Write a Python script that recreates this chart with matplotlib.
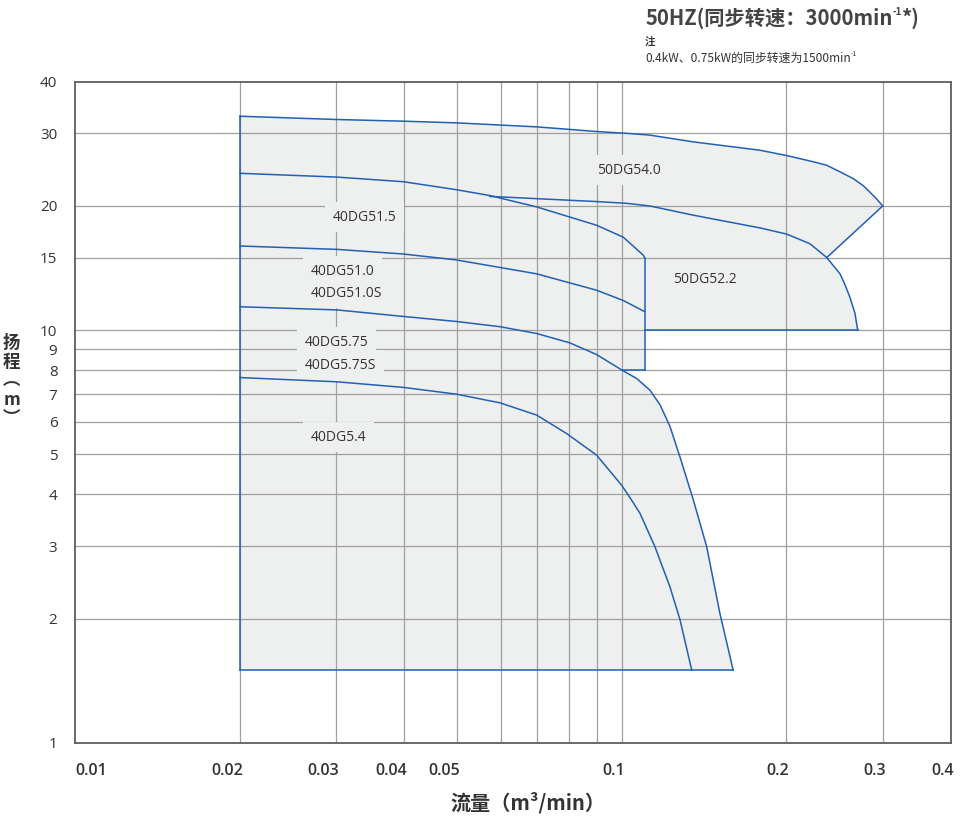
import numpy as np
import matplotlib.pyplot as plt
from matplotlib.transforms import offset_copy

# pump performance ranges, flow q (m3/min) vs head h (m)
q_540 = [0.02, 0.0301, 0.0398, 0.0498, 0.0698, 0.0899, 0.102, 0.1125, 0.1351, 0.1788, 0.2001, 0.2239, 0.237, 0.2506, 0.2650, 0.2764, 0.2843, 0.2924, 0.300]
h_540 = [33.0, 32.4, 32.1, 31.8, 31.1, 30.3, 30.0, 29.7, 28.6, 27.3, 26.5, 25.6, 25.1, 24.2, 23.3, 22.4, 21.6, 20.8, 20.0]

q_522 = [0.0573, 0.0899, 0.102, 0.1125, 0.1351, 0.1788, 0.2001, 0.2208, 0.237, 0.2506, 0.2559, 0.2614, 0.2669, 0.270]
h_522 = [21.1, 20.5, 20.3, 20.0, 19.0, 17.7, 17.1, 16.2, 15.0, 13.7, 12.9, 12.0, 11.0, 10.0]

q_515 = [0.02, 0.0301, 0.0398, 0.0498, 0.0573, 0.0698, 0.0899, 0.1006, 0.1094, 0.110]
h_515 = [24.0, 23.5, 22.9, 21.9, 21.2, 19.9, 17.96, 16.8, 15.2, 15.0]

q_510 = [0.02, 0.0301, 0.0398, 0.0498, 0.0698, 0.0899, 0.1006, 0.110]
h_510 = [16.0, 15.7, 15.3, 14.8, 13.7, 12.5, 11.8, 11.1]

q_575 = [0.02, 0.0301, 0.0398, 0.0498, 0.0598, 0.0698, 0.0803, 0.0899, 0.1001, 0.1064, 0.1125, 0.1174, 0.1224, 0.1277, 0.1351, 0.1429, 0.1511, 0.1598]
h_575 = [11.4, 11.2, 10.8, 10.5, 10.2, 9.82, 9.32, 8.73, 8.0, 7.64, 7.16, 6.6, 5.85, 4.93, 3.88, 2.99, 2.06, 1.5]

q_54 = [0.02, 0.0301, 0.0398, 0.0498, 0.0598, 0.0698, 0.0792, 0.0899, 0.0999, 0.1041, 0.1079, 0.1149, 0.1224, 0.1277, 0.1342]
h_54 = [7.68, 7.50, 7.27, 7.00, 6.67, 6.23, 5.62, 4.98, 4.21, 3.88, 3.60, 2.99, 2.39, 1.99, 1.5]

q_min = 0.02
q_step = 0.11
h_floor = 1.5
h_top_step = 10
h_low_step = 8
junction = 8      # index in q_522 where the diagonal from 54.0 meets
low_start = 8     # index in q_575 where the step at 8 m meets

labels = ['50DG54.0', '40DG51.5', '40DG51.0', '40DG51.0S', '40DG5.75', '40DG5.75S', '40DG5.4', '50DG52.2']
label_q = [0.0900, 0.0296, 0.0269, 0.0269, 0.0263, 0.0263, 0.0269, 0.124]
label_h = [24.4, 18.8, 13.9, 12.3, 9.35, 8.22, 5.51, 13.3]

x_ticks = [0.01, 0.02, 0.03, 0.04, 0.05, 0.1, 0.2, 0.3, 0.4]
x_tick_labels = ['0.01', '0.02', '0.03', '0.04', '0.05', '0.1', '0.2', '0.3', '0.4']
y_ticks = [1, 2, 3, 4, 5, 6, 7, 8, 9, 10, 15, 20, 30, 40]
grid_q = [0.02, 0.03, 0.04, 0.05, 0.06, 0.07, 0.08, 0.09, 0.1, 0.2, 0.3]
grid_h = [2, 3, 4, 5, 6, 7, 8, 9, 10, 15, 20, 30]

blue = '#2160b4'
fill_c = '#eeefef'
grid_c = '#a0a0a0'
txt_c = '#333333'
cjk = ['Noto Sans CJK SC', 'DejaVu Sans']
latin = ['Open Sans', 'DejaVu Sans']

fig = plt.figure(figsize=(9.6, 8.19), dpi=100)
ax = fig.add_axes([0.0786, 0.0928, 0.912, 0.8074])
ax.set_xscale('log')
ax.set_yscale('log')
ax.set_xlim(0.01, 0.4)
ax.set_ylim(1, 40)

# shaded operating range
poly_q = [q_min] + q_540 + q_522[junction:] + [q_step, q_step] + q_575[low_start:]
poly_h = [h_floor] + h_540 + h_522[junction:] + [h_top_step, h_low_step] + h_575[low_start:]
ax.fill(poly_q, poly_h, color=fill_c, zorder=1, lw=0)

for g in grid_q:
    ax.axvline(g, color=grid_c, lw=0.9, zorder=2)
for g in grid_h:
    ax.axhline(g, color=grid_c, lw=0.9, zorder=2)

lw = 1.1
ax.plot([q_min, q_min], [h_floor, h_540[0]], color=blue, lw=lw, zorder=4)
ax.plot([q_min, q_575[-1]], [h_floor, h_floor], color=blue, lw=lw, zorder=4)
ax.plot(q_540, h_540, color=blue, lw=lw, zorder=4)
ax.plot([q_540[-1], q_522[junction]], [h_540[-1], h_522[junction]], color=blue, lw=lw, zorder=4)
ax.plot(q_522, h_522, color=blue, lw=lw, zorder=4)
ax.plot(q_515, h_515, color=blue, lw=lw, zorder=4)
ax.plot(q_510, h_510, color=blue, lw=lw, zorder=4)
ax.plot(q_575, h_575, color=blue, lw=lw, zorder=4)
ax.plot(q_54, h_54, color=blue, lw=lw, zorder=4)
ax.plot([q_step, q_step], [h_515[-1], h_low_step], color=blue, lw=lw, zorder=4)
ax.plot([q_step, q_522[-1]], [h_top_step, h_top_step], color=blue, lw=lw, zorder=4)
ax.plot([q_575[low_start], q_step], [h_low_step, h_low_step], color=blue, lw=lw, zorder=4)

for lab, lq, lh in zip(labels, label_q, label_h):
    ax.text(lq, lh, lab, ha='left', va='center', fontsize=10, color=txt_c,
            family=latin, zorder=3,
            bbox=dict(facecolor=fill_c, edgecolor='none', boxstyle='square,pad=0.55'))

for s in ax.spines.values():
    s.set_color('#5e5e5e')
    s.set_linewidth(1.3)
    s.set_zorder(5)

ax.minorticks_off()
ax.set_xticks(x_ticks)
ax.set_xticklabels([])
ax.tick_params(axis='x', length=0)
# x labels sit right-aligned just past their gridline, first one starts at the axis
xt = offset_copy(ax.get_xaxis_transform(), fig=fig, x=3, y=-27.7, units='dots')
x0t = offset_copy(ax.get_xaxis_transform(), fig=fig, x=0, y=-27.7, units='dots')
for i, (v, s) in enumerate(zip(x_ticks, x_tick_labels)):
    ha = 'left' if i == 0 else 'right'
    ax.text(v, 0, s, transform=x0t if i == 0 else xt, ha=ha, va='center', fontsize=11.5,
            fontweight='semibold', color=txt_c, family=latin, clip_on=False)

ax.set_yticks(y_ticks)
ax.set_yticklabels([str(v) for v in y_ticks], family=latin, fontsize=11, color=txt_c)
ax.tick_params(axis='y', length=0, pad=13)

fig.text(0.5495, 0.0195, '流量（m³/min）', ha='center', va='center', fontsize=14.5,
         fontweight='bold', color=txt_c, family=cjk)
fig.text(0.012, 0.535, '扬\n程\n︵\nm\n︶', ha='center', va='center', fontsize=12.5,
         fontweight='bold', color=txt_c, family=cjk, linespacing=1.05)

# title with a small raised -1
t1 = fig.text(0.672, 0.978, '50HZ(同步转速：3000min', ha='left', va='center', fontsize=14.6,
              fontweight='bold', color='#444444', family=cjk)
s1 = ax.annotate('-1', xy=(1, 0.78), xycoords=t1, ha='left', va='center', fontsize=7,
                 fontweight='bold', color='#444444', family=cjk, annotation_clip=False)
ax.annotate('*)', xy=(1, 0.5), xycoords=(s1, t1), ha='left', va='center', fontsize=14.6,
            fontweight='bold', color='#444444', family=cjk, annotation_clip=False)

fig.text(0.672, 0.949, '注', ha='left', va='center', fontsize=7.5,
         fontweight='bold', color=txt_c, family=cjk)
n1 = fig.text(0.672, 0.929, '0.4kW、0.75kW的同步转速为1500min', ha='left', va='center', fontsize=8.6,
              color=txt_c, family=cjk)
ax.annotate('-1', xy=(1, 0.8), xycoords=n1, ha='left', va='center', fontsize=5,
            color=txt_c, family=cjk, annotation_clip=False)

fig.savefig('out.png', dpi=100)
